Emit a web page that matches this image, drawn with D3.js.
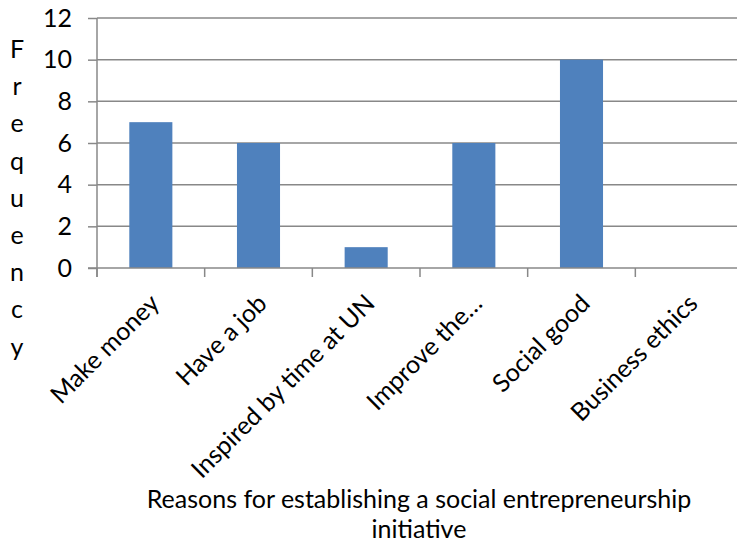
<!DOCTYPE html>
<html>
<head>
<meta charset="utf-8">
<script src="https://cdn.jsdelivr.net/npm/d3@7"></script>
<style>
  body { margin: 0; background: #fff; }
  svg text { font-family: Lato, "Open Sans", sans-serif; fill: #000; }
</style>
</head>
<body>
<svg id="chart"></svg>
<script>
const categories = ["Make money", "Have a job", "Inspired by time at UN", "Improve the…", "Social good", "Business ethics"];
const frequency = [7, 6, 1, 6, 10, 0];
const yTicks = [0, 2, 4, 6, 8, 10, 12];
const yTitle = "Frequency";
const xTitle = ["Reasons for establishing a social entrepreneurship", "initiative"];

const width = 737, height = 550;
const plot = { left: 97, right: 743, top: 18, bottom: 268 };
const fontSize = 25;

const svg = d3.select("#chart")
  .attr("width", width)
  .attr("height", height);

const x = d3.scaleBand()
  .domain(categories)
  .range([plot.left, plot.right])
  .paddingInner(0.6)
  .paddingOuter(0.3);

const y = d3.scaleLinear()
  .domain([0, 12])
  .range([plot.bottom, plot.top]);

// gridlines
svg.append("g")
  .selectAll("line")
  .data(yTicks.filter(d => d > 0))
  .join("line")
  .attr("x1", plot.left)
  .attr("x2", plot.right)
  .attr("y1", d => y(d))
  .attr("y2", d => y(d))
  .attr("stroke", "#888")
  .attr("stroke-width", 1.5);

// bars
svg.append("g")
  .selectAll("rect")
  .data(categories)
  .join("rect")
  .attr("x", d => x(d))
  .attr("y", (d, i) => y(frequency[i]))
  .attr("width", x.bandwidth())
  .attr("height", (d, i) => y(0) - y(frequency[i]))
  .attr("fill", "#4f81bd");

// y axis
const yAxis = svg.append("g")
  .attr("transform", `translate(${plot.left},0)`)
  .call(d3.axisLeft(y).tickValues(yTicks).tickSize(9).tickPadding(16));
yAxis.select(".domain").remove();
yAxis.selectAll(".tick line").attr("stroke", "#888").attr("stroke-width", 1.5);
yAxis.selectAll(".tick text")
  .attr("font-size", fontSize)
  .style("font-family", "Lato");
yAxis.append("line")
  .attr("y1", plot.top)
  .attr("y2", plot.bottom + 9)
  .attr("stroke", "#888")
  .attr("stroke-width", 1.5);

// x axis
const step = x.step();
const xBoundaries = d3.range(categories.length + 1).map(i => plot.left + i * step);
svg.append("line")
  .attr("x1", plot.left - 9)
  .attr("x2", plot.right)
  .attr("y1", plot.bottom)
  .attr("y2", plot.bottom)
  .attr("stroke", "#888")
  .attr("stroke-width", 1.5);
svg.append("g")
  .selectAll("line")
  .data(xBoundaries)
  .join("line")
  .attr("x1", d => d)
  .attr("x2", d => d)
  .attr("y1", plot.bottom)
  .attr("y2", plot.bottom + 9)
  .attr("stroke", "#888")
  .attr("stroke-width", 1.5);

// category labels
svg.append("g")
  .selectAll("text")
  .data(categories)
  .join("text")
  .attr("transform", d => `translate(${x(d) + x.bandwidth() / 2 + 10},${plot.bottom + 37}) rotate(-45)`)
  .attr("text-anchor", "end")
  .attr("font-size", fontSize)
  .text(d => d);

// y title, letters stacked
svg.append("g")
  .selectAll("text")
  .data(yTitle.split(""))
  .join("text")
  .attr("x", 17)
  .attr("y", (d, i) => 58 + i * 37.2)
  .attr("text-anchor", "middle")
  .attr("font-size", fontSize)
  .text(d => d);

// x title
svg.append("g")
  .selectAll("text")
  .data(xTitle)
  .join("text")
  .attr("x", 419)
  .attr("y", (d, i) => 508 + i * 30)
  .attr("text-anchor", "middle")
  .attr("font-size", fontSize)
  .text(d => d);
</script>
</body>
</html>
